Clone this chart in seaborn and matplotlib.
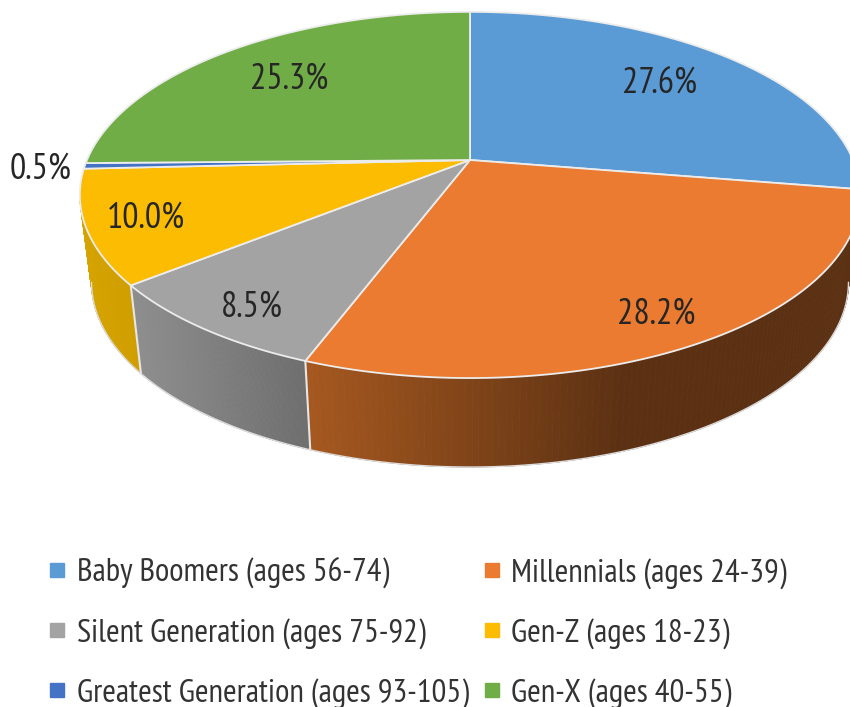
import numpy as np
import matplotlib
matplotlib.use('Agg')
import matplotlib.pyplot as plt
import seaborn as sns
from matplotlib.collections import PolyCollection
from matplotlib.lines import Line2D

# chart values
labels = ['Baby Boomers (ages 56-74)', 'Millennials (ages 24-39)', 'Silent Generation (ages 75-92)',
          'Gen-Z (ages 18-23)', 'Greatest Generation (ages 93-105)', 'Gen-X (ages 40-55)']
shares = [27.6, 28.2, 8.5, 10.0, 0.5, 25.3]
pct_text = ['27.6%', '28.2%', '8.5%', '10.0%', '0.5%', '25.3%']
top_colors = ['#5B9BD5', '#EA7B30', '#A3A3A3', '#FBBC02', '#4472C4', '#70AD47']
wall_start = ['#34587a', '#A5581F', '#8E8E8E', '#D6A400', '#2a4578', '#44692b']
wall_end = ['#34587a', '#5C3113', '#6E6E6E', '#CF9E00', '#2a4578', '#44692b']

sns.set_theme(style='white')
plt.rcParams['font.family'] = ['PT Sans Narrow', 'Lato', 'DejaVu Sans']

# perspective of the disc, in pixels
cx, cy = 470, 160
k = 0.191


def top_xy(t):
    v = -np.cos(t)
    s = 1 / (1 - k * v)
    return cx + 383 * np.sin(t) * s, cy + 176.4 * v * s


def bottom_xy(t):
    v = -np.cos(t)
    s = 1 / (1 - k * v)
    return cx + 371.5 * np.sin(t) * s, 247 + 178 * v * s


fig = plt.figure(figsize=(8.5, 7.07), dpi=100)
ax = fig.add_axes([0, 0, 1, 1])
ax.set_xlim(0, 850)
ax.set_ylim(707, 0)
ax.axis('off')

edges = np.cumsum([0] + shares) / np.sum(shares) * 2 * np.pi

# side wall, only between the two silhouette points of the disc
side = np.arccos(k)
wall_from, wall_to = np.pi - side, np.pi + side
for i in range(len(shares)):
    lo, hi = max(edges[i], wall_from), min(edges[i + 1], wall_to)
    if hi <= lo:
        continue
    ts = np.linspace(lo, hi, 120)
    tx, ty = top_xy(ts)
    bx, by = bottom_xy(ts)
    polys = [[(tx[j], ty[j]), (tx[j + 1], ty[j + 1]), (bx[j + 1], by[j + 1]), (bx[j], by[j])]
             for j in range(len(ts) - 1)]
    cmap = sns.blend_palette([wall_start[i], wall_end[i]], as_cmap=True)
    # shade runs left to right, the orange one is fully dark from about x=620
    x_mid = (tx[:-1] + bx[:-1]) / 2
    span = 310 if i == 1 else max(np.ptp(x_mid), 1)
    frac = np.clip((x_mid - x_mid.min()) / span, 0, 1)
    ramp = cmap(frac)
    ax.add_collection(PolyCollection(polys, facecolors=ramp, edgecolors=ramp, linewidths=0.6, zorder=2))
    ax.plot(bx, by, color='#dcdcdc', lw=1, zorder=2)
    # pale seam where the slice ends on the front
    if edges[i + 1] < wall_to:
        ax.plot([tx[-1], bx[-1]], [ty[-1], by[-1]], color='#e6e6e6', lw=1.5, zorder=3)

# top of the pie
for i in range(len(shares)):
    ts = np.linspace(edges[i], edges[i + 1], 200)
    x, y = top_xy(ts)
    ax.fill(np.r_[cx, x], np.r_[cy, y], facecolor=top_colors[i], edgecolor='#ececec', lw=1.3,
            joinstyle='round', zorder=4)

# data labels
label_pos = [(660, 84), (656, 314), (252, 307), (146, 218), (41, 169), (289, 79)]
for txt, (x, y) in zip(pct_text, label_pos):
    ax.text(x, y, txt, ha='center', va='center', fontsize=26, color='#262626', zorder=5)

# legend, filled by column so reorder to read row by row
order = [0, 2, 4, 1, 3, 5]
handles = [Line2D([], [], ls='', marker='s', ms=10, color=top_colors[i]) for i in order]
ax.legend(handles, [labels[i] for i in order], ncol=2, loc='upper left',
          bbox_to_anchor=(50, 558), bbox_transform=ax.transData, borderaxespad=0, borderpad=0,
          frameon=False, fontsize=23.7, labelcolor='#333333', handlelength=0.45, handletextpad=0.36,
          columnspacing=0.49, labelspacing=0.88)

fig.savefig('out.png', dpi=100)
